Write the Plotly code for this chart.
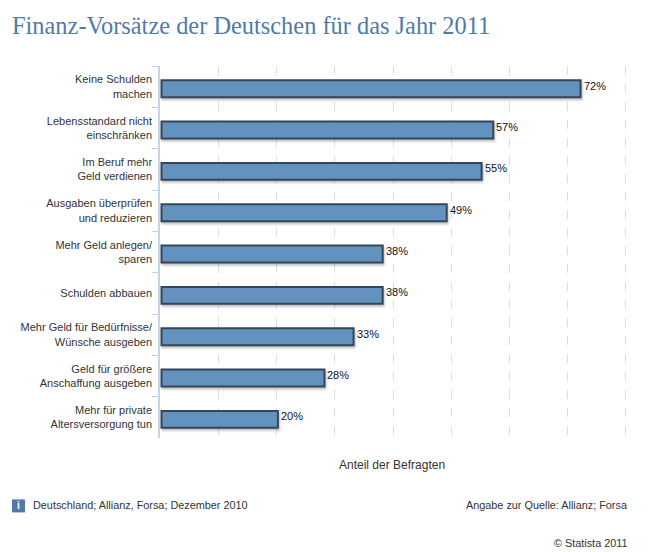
import plotly.graph_objects as go

categories = ["Keine Schulden<br>machen", "Lebensstandard nicht<br>einschränken", "Im Beruf mehr<br>Geld verdienen",
              "Ausgaben überprüfen<br>und reduzieren", "Mehr Geld anlegen/<br>sparen", "Schulden abbauen",
              "Mehr Geld für Bedürfnisse/<br>Wünsche ausgeben", "Geld für größere<br>Anschaffung ausgeben",
              "Mehr für private<br>Altersversorgung tun"]
values = [72, 57, 55, 49, 38, 38, 33, 28, 20]
TITLE = "Finanz-Vorsätze der Deutschen für das Jahr 2011"
W, H = 650, 552
L, R, T, B = 160, 628, 66, 438.5
FONT = "Liberation Sans, Arial, sans-serif"

def px(x): return (x - L) / (R - L)
def py(y): return (B - y) / (B - T)

fig = go.Figure(go.Bar(
    x=values, y=categories, orientation="h", width=0.41, offset=-0.155,
    marker=dict(color="#6292bd", line=dict(color="#33465a", width=2)),
    hoverinfo="skip"))

annotations = [dict(x=v, y=c, text=f"{v}%", xref="x", yref="y", xanchor="left", yanchor="middle",
                    xshift=1, yshift=1, showarrow=False, font=dict(family=FONT, size=11, color="#111111"))
               for v, c in zip(values, categories)]

def note(x, y, text, anchor="left", color="#333333", size=11, family=FONT):
    annotations.append(dict(x=px(x), y=py(y), xref="paper", yref="paper", text=text, xanchor=anchor,
                            yanchor="middle", showarrow=False, font=dict(family=family, size=size, color=color)))

note(31, 505.5, "Deutschland; Allianz, Forsa; Dezember 2010", size=10.85)
note(630, 505.5, "Angabe zur Quelle: Allianz; Forsa", "right", size=10.85)
note(630, 544, "© Statista 2011", "right", size=10.85)
note(18.5, 506.5, "<b>i</b>", "center", color="#ffffff", size=10)
note(392, 466, "Anteil der Befragten", "center", size=12)
note(10, 25, TITLE, color="#4f7ba8", size=24.4, family="Liberation Serif, Georgia, serif")

fig.update_layout(
    width=W, height=H, margin=dict(l=L, r=W - R, t=T, b=H - B),
    paper_bgcolor="white", plot_bgcolor="white", showlegend=False,
    annotations=annotations,
    shapes=[dict(type="rect", xref="paper", yref="paper", x0=px(12), x1=px(25), y0=py(500), y1=py(513),
                 fillcolor="#4f7ba8", line=dict(width=0), layer="below")],
    xaxis=dict(range=[-0.26, 80.15], tick0=-0.2, dtick=10, showticklabels=False, ticks="", zeroline=False,
               showline=False, showgrid=True, gridcolor="#dddddd", griddash="dash", gridwidth=1),
    yaxis=dict(type="category", autorange="reversed", tickson="boundaries", ticks="outside", ticklen=6,
               tickcolor="#c0d0e0", tickwidth=1, showline=True, linecolor="#c8d4e2", linewidth=1.5,
               showgrid=False, ticklabelstandoff=4, tickfont=dict(family=FONT, size=11, color="#333333")),
)

post = """
document.body.style.margin='0';
document.querySelectorAll('.bars .point path').forEach(function(p){p.style.filter='drop-shadow(1px 2px 1px rgba(0,0,0,0.25))';});
"""
fig.write_html("out.html", post_script=post, config={"displayModeBar": False})
